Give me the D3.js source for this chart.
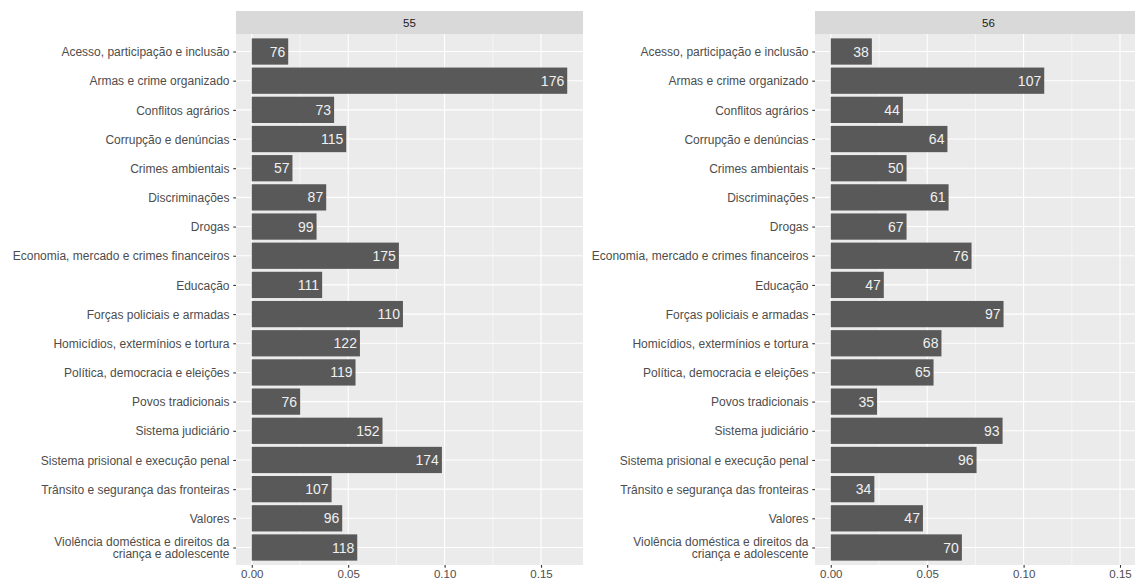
<!DOCTYPE html>
<html>
<head>
<meta charset="utf-8">
<script src="https://cdn.jsdelivr.net/npm/d3@7"></script>
<style>
  html, body { margin: 0; padding: 0; background: #ffffff; }
  svg { display: block; font-family: "Liberation Sans", Arial, sans-serif; }
</style>
</head>
<body>
<svg id="chart" width="1135" height="581"></svg>
<script>
// Topics, listed top to bottom
const categories = [
  "Acesso, participação e inclusão",
  "Armas e crime organizado",
  "Conflitos agrários",
  "Corrupção e denúncias",
  "Crimes ambientais",
  "Discriminações",
  "Drogas",
  "Economia, mercado e crimes financeiros",
  "Educação",
  "Forças policiais e armadas",
  "Homicídios, extermínios e tortura",
  "Política, democracia e eleições",
  "Povos tradicionais",
  "Sistema judiciário",
  "Sistema prisional e execução penal",
  "Trânsito e segurança das fronteiras",
  "Valores",
  "Violência doméstica e direitos da\ncriança e adolescente"
];

const panels = ["55", "56"];

// Counts printed inside each bar
const counts55 = [76, 176, 73, 115, 57, 87, 99, 175, 111, 110, 122, 119, 76, 152, 174, 107, 96, 118];
const counts56 = [38, 107, 44, 64, 50, 61, 67, 76, 47, 97, 68, 65, 35, 93, 96, 34, 47, 70];

// Share used for the bar length
const share55 = [0.0189, 0.1636, 0.0427, 0.0490, 0.0211, 0.0386, 0.0336, 0.0763, 0.0365, 0.0784,
                 0.0561, 0.0538, 0.0251, 0.0678, 0.0986, 0.0414, 0.0469, 0.0547];
const share56 = [0.0213, 0.1107, 0.0374, 0.0605, 0.0393, 0.0611, 0.0393, 0.0730, 0.0275, 0.0896,
                 0.0574, 0.0533, 0.0240, 0.0891, 0.0756, 0.0226, 0.0478, 0.0680];

const xTicks = [0, 0.05, 0.10, 0.15];
const xMinor = [0.025, 0.075, 0.125, 0.175];

const panelData = [
  { title: panels[0], counts: counts55, share: share55, left: 236 },
  { title: panels[1], counts: counts56, share: share56, left: 815 }
];

const svg = d3.select("#chart");
const stripTop = 11, stripH = 23;
const plotTop = stripTop + stripH, plotBottom = 565;
const panelW = 347;

// Shared x scale, with 5% padding on each side of the data range
const maxShare = d3.max(share55.concat(share56));
const pad = maxShare * 0.05;
const xDomain = [-pad, maxShare + pad];

const y = d3.scalePoint()
  .domain(categories)
  .range([plotTop, plotBottom])
  .padding(0.6);
const barH = y.step() * 0.9;

panelData.forEach(p => {
  const x = d3.scaleLinear().domain(xDomain).range([p.left, p.left + panelW]);
  const g = svg.append("g");

  // strip
  g.append("rect")
    .attr("x", p.left).attr("y", stripTop)
    .attr("width", panelW).attr("height", stripH)
    .attr("fill", "#d9d9d9");
  g.append("text")
    .attr("x", p.left + panelW / 2).attr("y", stripTop + stripH / 2)
    .attr("dy", "0.35em")
    .attr("text-anchor", "middle")
    .attr("font-size", 11.5)
    .attr("fill", "#1a1a1a")
    .text(p.title);

  // panel background
  g.append("rect")
    .attr("x", p.left).attr("y", plotTop)
    .attr("width", panelW).attr("height", plotBottom - plotTop)
    .attr("fill", "#ebebeb");

  const clipId = "clip" + p.title;
  g.append("clipPath").attr("id", clipId)
    .append("rect")
    .attr("x", p.left).attr("y", plotTop)
    .attr("width", panelW).attr("height", plotBottom - plotTop);
  const inner = g.append("g").attr("clip-path", `url(#${clipId})`);

  // minor vertical grid
  inner.selectAll("line.minor").data(xMinor).join("line")
    .attr("class", "minor")
    .attr("x1", d => x(d)).attr("x2", d => x(d))
    .attr("y1", plotTop).attr("y2", plotBottom)
    .attr("stroke", "#ffffff").attr("stroke-width", 0.55);
  // major vertical grid
  inner.selectAll("line.vmaj").data(xTicks).join("line")
    .attr("class", "vmaj")
    .attr("x1", d => x(d)).attr("x2", d => x(d))
    .attr("y1", plotTop).attr("y2", plotBottom)
    .attr("stroke", "#ffffff").attr("stroke-width", 1.1);
  // horizontal grid at each category
  inner.selectAll("line.hmaj").data(categories).join("line")
    .attr("class", "hmaj")
    .attr("x1", p.left).attr("x2", p.left + panelW)
    .attr("y1", d => y(d)).attr("y2", d => y(d))
    .attr("stroke", "#ffffff").attr("stroke-width", 1.1);

  // bars
  const rows = categories.map((c, i) => ({ c, n: p.counts[i], s: p.share[i] }));
  inner.selectAll("rect.bar").data(rows).join("rect")
    .attr("class", "bar")
    .attr("x", x(0))
    .attr("y", d => y(d.c) - barH / 2)
    .attr("width", d => x(d.s) - x(0))
    .attr("height", barH)
    .attr("fill", "#595959");

  // count labels
  inner.selectAll("text.lab").data(rows).join("text")
    .attr("class", "lab")
    .attr("x", d => x(d.s) - 3)
    .attr("y", d => y(d.c))
    .attr("dy", "0.36em")
    .attr("text-anchor", "end")
    .attr("font-size", 14)
    .attr("fill", "#f0f0f0")
    .text(d => d.n);

  // x axis
  const xAxis = d3.axisBottom(x).tickValues(xTicks)
    .tickFormat(d3.format(".2f")).tickSize(2.75).tickPadding(2);
  const xg = g.append("g").attr("transform", `translate(0,${plotBottom})`).call(xAxis);
  xg.select(".domain").remove();
  xg.selectAll(".tick line").attr("stroke", "#333333").attr("stroke-width", 1.1);
  xg.selectAll(".tick text").attr("fill", "#4d4d4d").attr("font-size", 11.5)
    .attr("font-family", "Liberation Sans, Arial, sans-serif");

  // y axis
  const yAxis = d3.axisLeft(y).tickSize(2.75).tickPadding(2).tickFormat("");
  const yg = g.append("g").attr("transform", `translate(${p.left},0)`).call(yAxis);
  yg.select(".domain").remove();
  yg.selectAll(".tick line").attr("stroke", "#333333").attr("stroke-width", 1.1);
  yg.selectAll(".tick").each(function (d) {
    const lines = d.split("\n");
    const t = d3.select(this).append("text")
      .attr("x", -6.5)
      .attr("text-anchor", "end")
      .attr("fill", "#4d4d4d")
      .attr("font-size", 12)
      .attr("font-family", "Liberation Sans, Arial, sans-serif");
    const lh = 12.5;
    lines.forEach((ln, i) => {
      t.append("tspan")
        .attr("x", -6.5)
        .attr("y", (i - (lines.length - 1) / 2) * lh)
        .attr("dy", "0.35em")
        .text(ln);
    });
  });
});
</script>
</body>
</html>
